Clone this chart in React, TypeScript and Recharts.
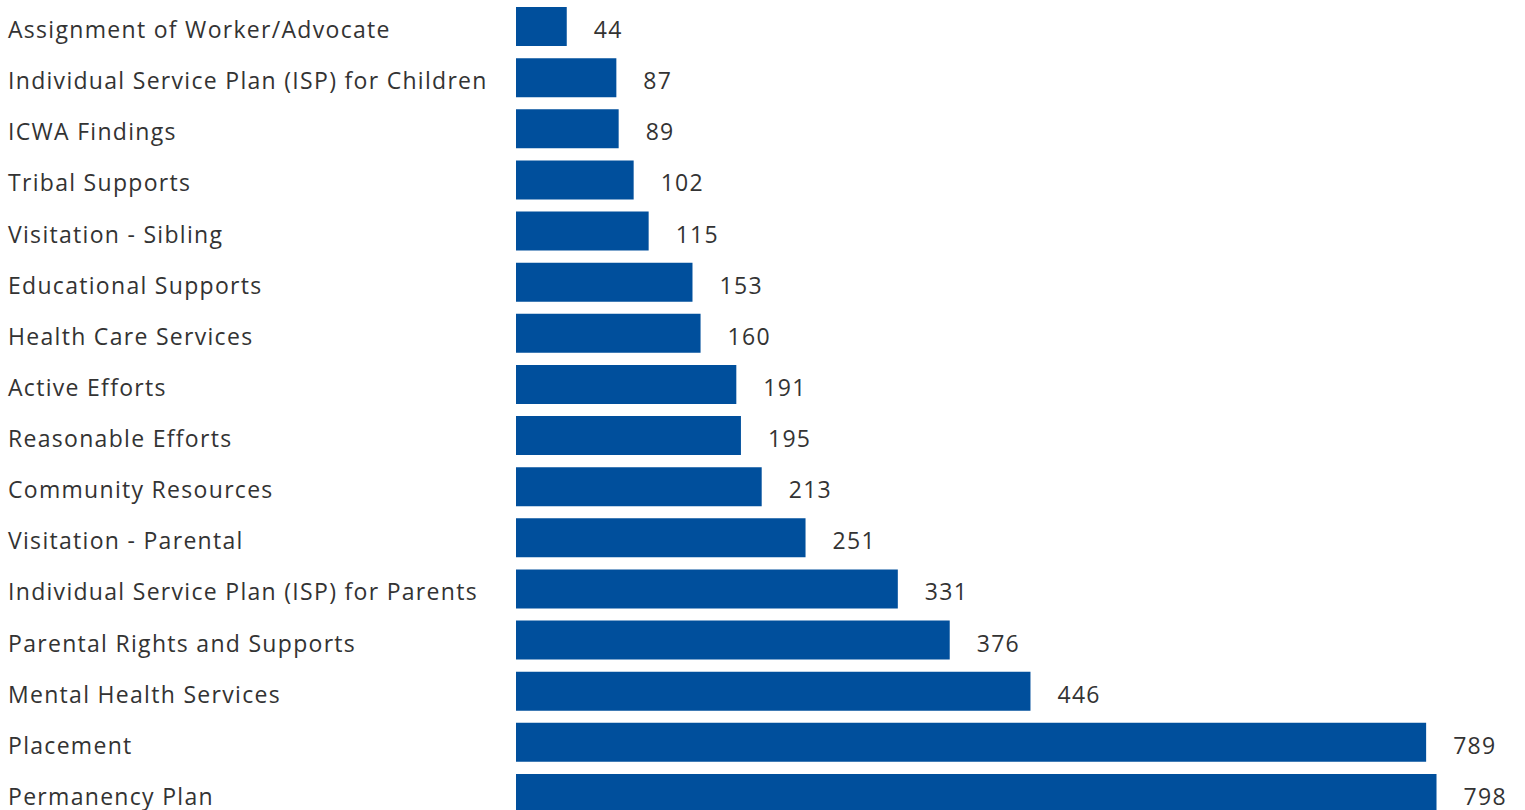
import React from 'react';
import { BarChart, Bar, XAxis, YAxis, LabelList } from 'recharts';

const categories = [
  'Assignment of Worker/Advocate',
  'Individual Service Plan (ISP) for Children',
  'ICWA Findings',
  'Tribal Supports',
  'Visitation - Sibling',
  'Educational Supports',
  'Health Care Services',
  'Active Efforts',
  'Reasonable Efforts',
  'Community Resources',
  'Visitation - Parental',
  'Individual Service Plan (ISP) for Parents',
  'Parental Rights and Supports',
  'Mental Health Services',
  'Placement',
  'Permanency Plan',
];
const values = [44, 87, 89, 102, 115, 153, 160, 191, 195, 213, 251, 331, 376, 446, 789, 798];

const data = categories.map((name, i) => ({ name, value: values[i] }));

const FONT = '"Open Sans", sans-serif';
const TEXT = '#333333';

const CatTick = (props: any) => {
  const { y, payload } = props;
  return (
    <text x={8} y={y + 11.5} fill={TEXT} fontSize={23} letterSpacing={1.3} fontFamily={FONT} textAnchor="start">
      {payload.value}
    </text>
  );
};

const ValueLabel = (props: any) => {
  const { x, y, width, height, value } = props;
  return (
    <text x={x + width + 27} y={y + height / 2 + 11.5} fill={TEXT} fontSize={23} letterSpacing={1.3} fontFamily={FONT} textAnchor="start">
      {value}
    </text>
  );
};

export default function App() {
  return (
    <div style={{ position: 'fixed', left: 0, top: 0, width: 1525, height: 810, overflow: 'hidden', background: '#fff' }}>
      <BarChart
        width={1525}
        height={820}
        data={data}
        layout="vertical"
        margin={{ top: 1, right: 28.5, bottom: 1, left: 0 }}
        barCategoryGap={0}
      >
        <XAxis type="number" domain={[0, 850]} hide />
        <YAxis
          type="category"
          dataKey="name"
          width={516}
          axisLine={false}
          tickLine={false}
          interval={0}
          tick={<CatTick />}
        />
        <Bar dataKey="value" fill="#004F9C" barSize={39} isAnimationActive={false}>
          <LabelList dataKey="value" content={<ValueLabel />} />
        </Bar>
      </BarChart>
    </div>
  );
}
